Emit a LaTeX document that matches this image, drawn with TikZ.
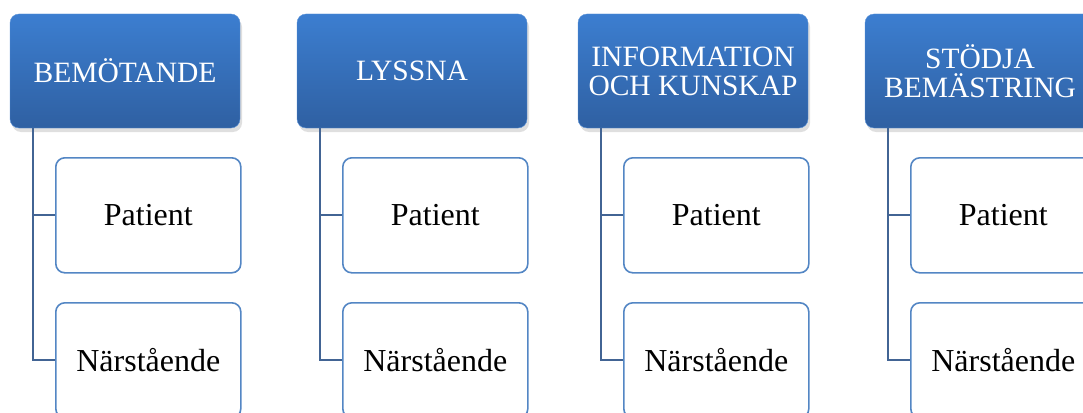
\documentclass[tikz,border=0pt]{standalone}
\usepackage{fontspec}
\setmainfont{Liberation Serif}
\usetikzlibrary{shadows}
\definecolor{hdrtop}{RGB}{60,126,208}
\definecolor{hdrbot}{RGB}{47,96,162}
\definecolor{boxline}{RGB}{83,134,196}
\definecolor{connline}{RGB}{66,100,148}
\tikzset{
  hdr/.style={rounded corners=9pt, top color=hdrtop, bottom color=hdrbot, draw=hdrtop!85!white,
    minimum width=230pt, minimum height=114pt, inner sep=0pt, text=white, align=center,
    font=\fontsize{29.5}{29}\selectfont,
    drop shadow={shadow xshift=2pt, shadow yshift=-4pt, opacity=0.25}},
  sub/.style={rounded corners=9pt, draw=boxline, line width=1.6pt, fill=white,
    minimum width=185pt, minimum height=115pt, inner sep=0pt, anchor=north west,
    font=\fontsize{32}{32}\selectfont},
  conn/.style={draw=connline, line width=2.2pt}
}
\begin{document}
\begin{tikzpicture}[x=1pt,y=-1pt]
\useasboundingbox (0,0) rectangle (1083,412);
\clip (0,0) rectangle (1083,412);
\foreach \i/\x/\txt in {1/10/BEMÖTANDE, 2/297/LYSSNA, 3/578/{INFORMATION\\OCH KUNSKAP}, 4/865/{STÖDJA\\BEMÄSTRING}}{
  \node[hdr] (h\i) at (\x+115,71) {\txt};
  \coordinate (c\i) at ([xshift=23pt]h\i.south west);
  \node[sub] (p\i) at (\x+45,157) {Patient};
  \node[sub] (n\i) at (\x+45,302) {Närstående};
  \draw[conn] (c\i) |- (p\i.west);
  \draw[conn] (c\i) |- (n\i.west);
}
\end{tikzpicture}
\end{document}
